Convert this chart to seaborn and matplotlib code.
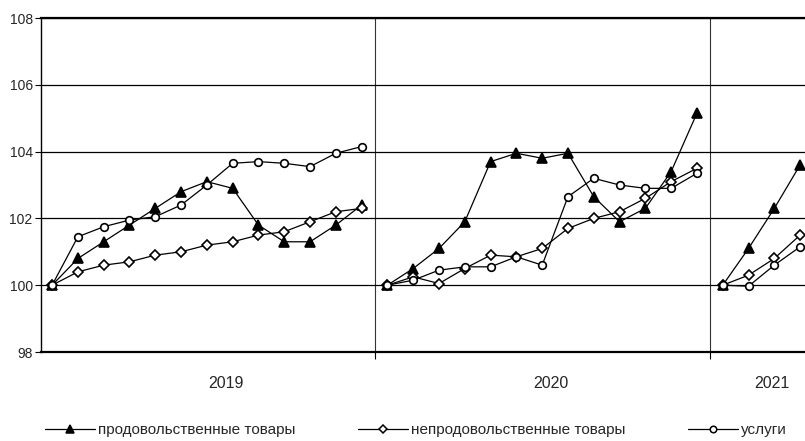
import pandas as pd
import matplotlib
matplotlib.use("Agg")
import matplotlib.pyplot as plt
import seaborn as sns
from matplotlib.lines import Line2D
import matplotlib.transforms as mtransforms

# Индексы цен (декабрь предыдущего года = 100), по месяцам
years = ["2019", "2020", "2021"]
food_2019 = [100, 100.8, 101.3, 101.8, 102.3, 102.8, 103.1, 102.9, 101.8, 101.3, 101.3, 101.8, 102.4]
nonfood_2019 = [100, 100.4, 100.6, 100.7, 100.9, 101.0, 101.2, 101.3, 101.5, 101.6, 101.9, 102.2, 102.3]
serv_2019 = [100, 101.45, 101.75, 101.95, 102.05, 102.4, 103.0, 103.65, 103.7, 103.65, 103.55, 103.95, 104.15]
food_2020 = [100, 100.5, 101.1, 101.9, 103.7, 103.95, 103.8, 103.95, 102.65, 101.9, 102.3, 103.4, 105.15]
nonfood_2020 = [100, 100.25, 100.05, 100.5, 100.9, 100.85, 101.1, 101.7, 102.0, 102.2, 102.6, 103.1, 103.5]
serv_2020 = [100, 100.15, 100.45, 100.55, 100.55, 100.85, 100.6, 102.65, 103.2, 103.0, 102.9, 102.9, 103.35]
food_2021 = [100, 101.1, 102.3, 103.6]
nonfood_2021 = [100, 100.3, 100.8, 101.5]
serv_2021 = [100, 99.97, 100.6, 101.15]

series_names = ["продовольственные товары", "непродовольственные товары", "услуги"]
data = {
    series_names[0]: [food_2019, food_2020, food_2021],
    series_names[1]: [nonfood_2019, nonfood_2020, nonfood_2021],
    series_names[2]: [serv_2019, serv_2020, serv_2021],
}

# длинная таблица: каждый год - 13 позиций по оси X
rows = []
for name, per_year in data.items():
    for k, (year, vals) in enumerate(zip(years, per_year)):
        for i, v in enumerate(vals):
            rows.append({"idx": k * 13 + i, "value": v, "series": name, "year": year})
df = pd.DataFrame(rows)

sns.set_theme(style="white")
plt.rcParams["font.family"] = ["Liberation Sans", "DejaVu Sans"]

styles = {
    series_names[0]: dict(marker="^", markerfacecolor="black", markersize=7),
    series_names[1]: dict(marker="D", markerfacecolor="white", markersize=5),
    series_names[2]: dict(marker="o", markerfacecolor="white", markersize=5.5),
}

fig = plt.figure(figsize=(8.05, 4.41), dpi=100)
ax = fig.add_axes([41 / 805, 1 - 352 / 441, 764 / 805, 334 / 441])

for name in series_names:
    for year in years:
        sub = df[(df["series"] == name) & (df["year"] == year)]
        sns.lineplot(data=sub, x="idx", y="value", ax=ax, color="black",
                     linewidth=0.9, markeredgecolor="black", markeredgewidth=1.2,
                     legend=False, **styles[name])

ax.set_xlim(-0.43, 29.19)
ax.set_ylim(98, 108)
ax.set_yticks([98, 100, 102, 104, 106, 108])
ax.yaxis.grid(True, color="black", linewidth=0.9)
ax.set_axisbelow(True)
for sep in [12.5, 25.5]:
    ax.axvline(sep, color="#333333", linewidth=0.8, zorder=0)
ax.set_xticks([12.5, 25.5])
ax.set_xticklabels([])
ax.tick_params(axis="x", length=5, width=0.8, color="black", direction="out", bottom=True)
ax.tick_params(axis="y", length=4, width=0.8, color="black", direction="out", left=True,
               labelsize=10, pad=2)
ax.set_xlabel("")
ax.set_ylabel("")

ax.spines["right"].set_visible(False)
ax.spines["top"].set_linewidth(1.6)
ax.spines["bottom"].set_linewidth(1.6)
ax.spines["left"].set_linewidth(1.0)
for s in ax.spines.values():
    s.set_color("black")

trans = mtransforms.blended_transform_factory(ax.transData, fig.transFigure)
for year, xpos in zip(years, [6.74, 19.34, 27.9]):
    ax.text(xpos, 1 - 383 / 441, year, transform=trans, ha="center", va="center", fontsize=11.5)

# легенда по отдельности, чтобы выставить позиции
legend_x = [45 / 805, 358 / 805, 688 / 805]
for name, lx in zip(series_names, legend_x):
    st = styles[name]
    h = Line2D([], [], color="black", linewidth=0.9, marker=st["marker"],
               markerfacecolor=st["markerfacecolor"], markeredgecolor="black",
               markersize=st["markersize"] * 0.85, markeredgewidth=1.1)
    fig.legend([h], [name], loc="center left", bbox_to_anchor=(lx, 1 - 430 / 441),
               frameon=False, fontsize=11, handlelength=3.25, handletextpad=0.2,
               borderaxespad=0, borderpad=0)

fig.savefig("out.png", dpi=100)
